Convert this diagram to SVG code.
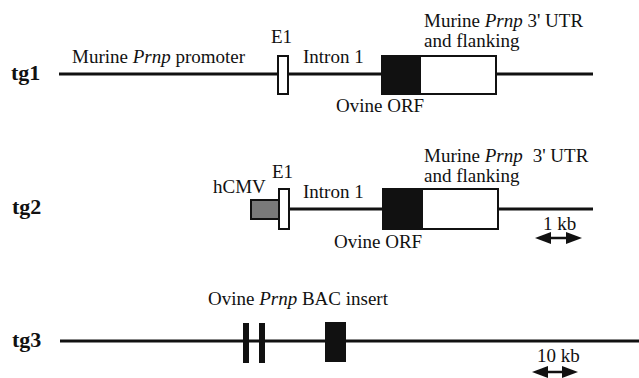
<svg xmlns="http://www.w3.org/2000/svg" width="639" height="378" viewBox="0 0 639 378">
<style>
text{font-family:"Liberation Serif","Times New Roman",serif;font-size:19px;fill:#111}
.lab{font-weight:bold;font-size:22px}
.ln{stroke:#111;stroke-width:3;fill:none}
.box{stroke:#111;stroke-width:2}
.bar{fill:#111}
.ah{fill:#111}
</style>
<rect width="639" height="378" fill="#fff"/>
<g id="connectors">
<line class="ln" x1="59" y1="74" x2="593" y2="74"/>
<line class="ln" x1="288" y1="209" x2="593" y2="209"/>
<line class="ln" x1="60" y1="341" x2="639" y2="341"/>
<g id="scale1">
<line stroke="#111" stroke-width="2.5" x1="548" y1="238" x2="569" y2="238"/>
<polygon class="ah" points="535,238 551,232 551,244"/>
<polygon class="ah" points="582,238 566,232 566,244"/>
</g>
<g id="scale10">
<line stroke="#111" stroke-width="2.5" x1="545" y1="372" x2="565" y2="372"/>
<polygon class="ah" points="532,372 548,366 548,378"/>
<polygon class="ah" points="578,372 562,366 562,378"/>
</g>
</g>
<g id="tg1">
<text class="lab" x="11" y="80">tg1</text>
<text x="72" y="63">Murine <tspan font-style="italic">Prnp</tspan> promoter</text>
<text x="271" y="43">E1</text>
<text x="303" y="63">Intron 1</text>
<rect class="box" x="278" y="56" width="10" height="38" fill="#fff"/>
<rect class="box" x="382" y="56" width="38" height="38" fill="#111"/>
<rect class="box" x="420" y="56" width="76" height="38" fill="#fff"/>
<text x="424" y="27">Murine <tspan font-style="italic">Prnp</tspan> 3' UTR</text>
<text x="424" y="47">and flanking</text>
<text x="336" y="112">Ovine ORF</text>
</g>
<g id="tg2">
<text class="lab" x="12" y="214">tg2</text>
<rect class="box" x="251" y="200" width="28" height="19" fill="#7a7a7a"/>
<rect class="box" x="279" y="189" width="10" height="40" fill="#fff"/>
<text x="213" y="193">hCMV</text>
<text x="272" y="178">E1</text>
<text x="303" y="198">Intron 1</text>
<rect class="box" x="383" y="189" width="39" height="40" fill="#111"/>
<rect class="box" x="422" y="189" width="76" height="40" fill="#fff"/>
<text x="424" y="162">Murine <tspan font-style="italic">Prnp</tspan><tspan dx="10">3' UTR</tspan></text>
<text x="424" y="182">and flanking</text>
<text x="334" y="248">Ovine ORF</text>
<text x="543" y="230">1 kb</text>
</g>
<g id="tg3">
<text class="lab" x="12" y="347">tg3</text>
<rect class="bar" x="243" y="323" width="6" height="40"/>
<rect class="bar" x="259" y="323" width="6" height="40"/>
<rect class="bar" x="325" y="322" width="21" height="40"/>
<text x="208" y="305">Ovine <tspan font-style="italic">Prnp</tspan> BAC insert</text>
<text x="537" y="362">10 kb</text>
</g>
</svg>
